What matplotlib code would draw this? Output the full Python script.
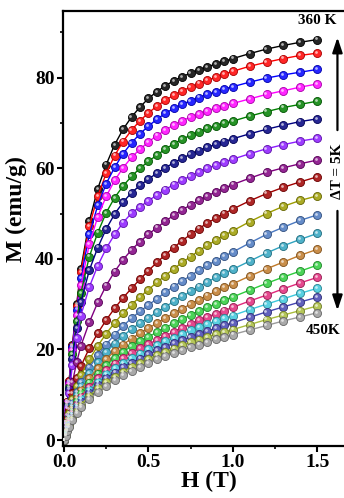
import matplotlib
matplotlib.use("Agg")
import matplotlib.pyplot as plt
import matplotlib.colors as mcolors
from matplotlib.transforms import offset_copy
from matplotlib.ticker import MultipleLocator

# Applied field (T)
field_T = [0, 0.01, 0.02, 0.03, 0.05, 0.075, 0.1, 0.15, 0.2, 0.25, 0.3, 0.35, 0.4,
           0.45, 0.5, 0.55, 0.6, 0.65, 0.7, 0.75, 0.8, 0.85, 0.9, 0.95, 1.0,
           1.1, 1.2, 1.3, 1.4, 1.5]

temperatures_K = [360, 365, 370, 375, 380, 385, 390, 395, 400, 405,
                  410, 415, 420, 425, 430, 435, 440, 445, 450]

# Magnetization (emu/g) per isotherm
M_360 = [0, 4.0, 8.5, 13.0, 21.0, 30.0, 37.8, 48.3, 55.5, 60.8, 65.2, 68.6, 71.3, 73.5, 75.4,
         76.9, 78.2, 79.3, 80.2, 81.0, 81.7, 82.4, 83.0, 83.6, 84.2, 85.3, 86.3, 87.1, 87.8, 88.4]
M_365 = [0, 4.0, 8.5, 13.0, 20.8, 29.5, 37.0, 47.3, 53.8, 58.9, 62.8, 65.9, 68.4, 70.5, 72.2,
         73.7, 75.0, 76.1, 77.1, 77.9, 78.7, 79.4, 80.1, 80.8, 81.4, 82.5, 83.4, 84.2, 84.9, 85.4]
M_370 = [0, 3.9, 8.3, 12.7, 20.5, 28.8, 35.8, 45.4, 51.8, 56.6, 60.2, 63.2, 65.6, 67.6, 69.3,
         70.8, 72.1, 73.2, 74.1, 74.9, 75.6, 76.3, 76.9, 77.5, 78.0, 79.0, 79.9, 80.6, 81.2, 81.8]
M_375 = [0, 3.9, 8.1, 12.3, 19.8, 27.6, 34.2, 43.2, 49.3, 53.8, 57.3, 60.1, 62.4, 64.2, 65.8,
         67.2, 68.4, 69.5, 70.5, 71.3, 72.0, 72.7, 73.3, 73.8, 74.3, 75.3, 76.3, 77.1, 77.9, 78.6]
M_380 = [0, 3.8, 7.8, 11.8, 19.0, 26.3, 32.5, 40.5, 45.8, 50.2, 53.5, 56.1, 58.2, 60.0, 61.5,
         62.9, 64.2, 65.4, 66.4, 67.3, 68.1, 68.8, 69.4, 69.9, 70.4, 71.5, 72.5, 73.4, 74.1, 74.8]
M_385 = [0, 3.7, 7.5, 11.2, 18.0, 24.8, 30.5, 37.5, 42.5, 46.6, 49.9, 52.5, 54.6, 56.2, 57.6,
         58.9, 60.1, 61.2, 62.2, 63.1, 63.9, 64.6, 65.3, 65.9, 66.5, 67.6, 68.6, 69.5, 70.3, 70.9]
M_390 = [0, 3.5, 7.0, 10.4, 16.5, 22.5, 27.5, 33.8, 38.5, 42.3, 45.4, 48.0, 50.1, 51.5, 52.8,
         54.1, 55.3, 56.4, 57.4, 58.3, 59.2, 60.0, 60.7, 61.4, 62.0, 63.2, 64.3, 65.2, 66.0, 66.6]
M_395 = [0, 2.8, 5.6, 8.3, 12.8, 17.2, 20.8, 26.0, 30.4, 34.1, 37.2, 39.8, 42.0, 43.8, 45.4,
         46.9, 48.3, 49.6, 50.8, 51.9, 52.9, 53.9, 54.8, 55.6, 56.4, 57.8, 59.1, 60.1, 61.0, 61.8]
M_400 = [0, 2.3, 4.6, 6.8, 10.3, 13.6, 16.3, 20.3, 23.6, 26.5, 29.1, 31.4, 33.5, 35.5, 37.4,
         39.2, 40.9, 42.5, 44.0, 45.4, 46.7, 47.9, 49.0, 50.0, 51.0, 52.8, 54.4, 55.8, 57.0, 58.1]
M_405 = [0, 2.0, 4.0, 5.9, 9.0, 11.9, 14.3, 17.8, 20.8, 23.5, 25.9, 28.0, 29.9, 31.6, 33.2,
         34.8, 36.3, 37.8, 39.2, 40.5, 41.8, 43.0, 44.1, 45.2, 46.2, 48.2, 50.0, 51.6, 52.9, 53.9]
M_410 = [0, 1.8, 3.6, 5.3, 8.1, 10.7, 12.9, 16.0, 18.7, 21.1, 23.3, 25.2, 26.9, 28.4, 29.8,
         31.2, 32.6, 33.9, 35.1, 36.3, 37.5, 38.6, 39.6, 40.6, 41.5, 43.5, 45.4, 47.0, 48.5, 49.7]
M_415 = [0, 1.7, 3.4, 5.0, 7.6, 10.0, 12.0, 14.8, 17.2, 19.4, 21.3, 23.0, 24.5, 25.8, 27.0,
         28.2, 29.4, 30.6, 31.7, 32.8, 33.9, 34.9, 35.9, 36.8, 37.7, 39.5, 41.3, 42.9, 44.3, 45.6]
M_420 = [0, 1.6, 3.2, 4.7, 7.1, 9.3, 11.1, 13.7, 15.9, 17.9, 19.6, 21.1, 22.4, 23.6, 24.7,
         25.8, 26.9, 28.0, 29.0, 30.0, 31.0, 31.9, 32.8, 33.7, 34.5, 36.2, 37.8, 39.3, 40.8, 42.1]
M_425 = [0, 1.5, 3.0, 4.4, 6.6, 8.6, 10.3, 12.7, 14.7, 16.5, 18.1, 19.5, 20.7, 21.8, 22.8,
         23.8, 24.8, 25.8, 26.7, 27.6, 28.5, 29.3, 30.1, 30.9, 31.6, 33.1, 34.6, 36.0, 37.3, 38.6]
M_430 = [0, 1.4, 2.8, 4.1, 6.1, 8.0, 9.6, 11.8, 13.7, 15.4, 16.9, 18.2, 19.3, 20.3, 21.2,
         22.1, 23.0, 23.9, 24.8, 25.6, 26.4, 27.2, 27.9, 28.6, 29.3, 30.7, 32.0, 33.4, 34.7, 35.9]
M_435 = [0, 1.3, 2.6, 3.8, 5.7, 7.5, 9.0, 11.1, 12.9, 14.5, 15.9, 17.1, 18.2, 19.1, 20.0,
         20.9, 21.8, 22.6, 23.4, 24.2, 24.9, 25.6, 26.3, 26.9, 27.5, 28.8, 30.0, 31.2, 32.4, 33.5]
M_440 = [0, 1.2, 2.4, 3.5, 5.3, 7.0, 8.4, 10.4, 12.1, 13.6, 14.9, 16.1, 17.1, 18.0, 18.9,
         19.8, 20.6, 21.4, 22.1, 22.8, 23.5, 24.1, 24.7, 25.3, 25.9, 27.1, 28.3, 29.4, 30.5, 31.5]
M_445 = [0, 1.1, 2.2, 3.2, 4.9, 6.5, 7.8, 9.7, 11.4, 12.8, 14.0, 15.1, 16.1, 17.0, 17.9,
         18.7, 19.5, 20.2, 20.9, 21.6, 22.2, 22.8, 23.4, 23.9, 24.4, 25.5, 26.6, 27.6, 28.6, 29.6]
M_450 = [0, 1.0, 2.0, 2.9, 4.5, 6.0, 7.2, 9.0, 10.6, 12.0, 13.2, 14.3, 15.3, 16.2, 17.0,
         17.8, 18.5, 19.2, 19.9, 20.5, 21.1, 21.7, 22.3, 22.8, 23.3, 24.3, 25.3, 26.3, 27.2, 28.1]

isotherms = [M_360, M_365, M_370, M_375, M_380, M_385, M_390, M_395, M_400, M_405,
             M_410, M_415, M_420, M_425, M_430, M_435, M_440, M_445, M_450]

curve_colors = ["#000000", "#ff0000", "#0000ff", "#ff00ff", "#008000", "#000080",
                "#8c1aff", "#800080", "#a00000", "#9c9c00", "#4a78c0", "#2fa3bf",
                "#c07a2a", "#2ccc3c", "#e0287a", "#3cc8dc", "#4444b0", "#a8bc3c",
                "#9a9a9a"]

plt.rcParams["font.family"] = ["Liberation Serif", "DejaVu Serif"]
plt.rcParams["font.weight"] = "bold"

fig = plt.figure(figsize=(3.44, 4.98), dpi=100)
ax = fig.add_axes([63 / 344, 52 / 498, 1.0 - 63 / 344 + 0.03, (446 - 11) / 498])


def shade(color, f):
    r, g, b = mcolors.to_rgb(color)
    if f >= 0:
        return (r + (1 - r) * f, g + (1 - g) * f, b + (1 - b) * f)
    return (r * (1 + f), g * (1 + f), b * (1 + f))


glint = offset_copy(ax.transData, fig=fig, x=-0.8, y=0.8, units="points")

for M, c in zip(isotherms, curve_colors):
    ax.plot(field_T, M, color=c, lw=1.0, marker="o", ms=5.8,
            mfc=shade(c, 0.15), mec=shade(c, -0.35), mew=0.6, zorder=2)
    ax.plot(field_T, M, ls="none", marker="o", ms=2.0, mfc=shade(c, 0.7),
            mec="none", transform=glint, zorder=3)

ax.set_xlim(-0.006, 1.72)
ax.set_ylim(-1.3, 94.7)

ax.xaxis.set_major_locator(MultipleLocator(0.5))
ax.xaxis.set_minor_locator(MultipleLocator(0.25))
ax.yaxis.set_major_locator(MultipleLocator(20))
ax.yaxis.set_minor_locator(MultipleLocator(10))
ax.tick_params(which="major", direction="out", length=4, width=1.5, labelsize=14, pad=2)
ax.tick_params(which="minor", direction="out", length=2.5, width=1.2)
ax.tick_params(axis="both", which="both", top=False, right=False)
for lab in ax.get_xticklabels() + ax.get_yticklabels():
    lab.set_fontweight("bold")
ax.xaxis.set_major_formatter(plt.FuncFormatter(lambda v, p: f"{v:.1f}"))
ax.yaxis.set_major_formatter(plt.FuncFormatter(lambda v, p: f"{v:.0f}"))

for s in ax.spines.values():
    s.set_linewidth(1.6)

ax.set_xlabel("H (T)", fontsize=17, fontweight="bold", labelpad=0)
ax.set_ylabel("M (emu/g)", fontsize=17, fontweight="bold")
ax.yaxis.set_label_coords(-0.125, 0.545)

# Temperature annotations
ax.text(1.50, 92.7, "360 K", ha="center", va="center", fontsize=11, fontweight="bold")
ax.text(1.535, 24.1, "450K", ha="center", va="center", fontsize=11, fontweight="bold")
ax.text(1.62, 59.4, "\u0394T = 5K", ha="center", va="center", rotation=90,
        fontsize=11, fontweight="bold")
arrow_style = dict(arrowstyle="-|>,head_length=0.9,head_width=0.3", color="black", lw=1.6)
ax.annotate("", xy=(1.62, 89.5), xytext=(1.62, 67.8), arrowprops=arrow_style)
ax.annotate("", xy=(1.62, 28.0), xytext=(1.62, 51.2), arrowprops=arrow_style)

fig.savefig("out.png", dpi=100)
